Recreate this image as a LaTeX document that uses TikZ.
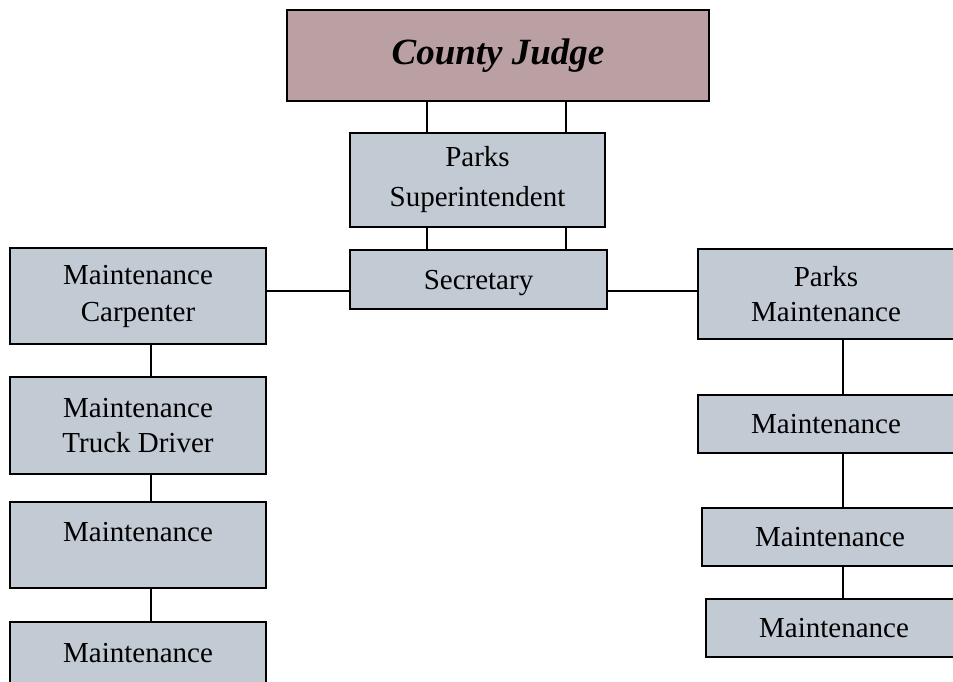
\documentclass[tikz,border=0pt]{standalone}
\usepackage{fontspec}
\setmainfont{Liberation Serif}
\usepackage{xcolor}
\usetikzlibrary{positioning,calc}

\definecolor{boxfill}{RGB}{194,202,212}
\definecolor{judgefill}{RGB}{186,160,163}

\tikzset{
    post/.style={draw=black, line width=1.8pt, fill=boxfill, minimum width=256pt,
        align=center, inner sep=0pt, font=\fontsize{29}{35}\selectfont},
    link/.style={line width=1.8pt}
}

\begin{document}
\begin{tikzpicture}[x=1pt, y=-1pt]
    \useasboundingbox (0,0) rectangle (953,681);
    \clip (0,0) rectangle (953,681);

    % Top of the chart
    \node[post, fill=judgefill, minimum width=422pt, minimum height=91pt,
        font=\fontsize{37}{40}\selectfont\bfseries\itshape] (judge) at (498,55.5) {County Judge};
    \node[post, minimum width=255pt, minimum height=94pt,
        font=\fontsize{29}{40}\selectfont] (super) at (477.5,180) {Parks\\Superintendent};
    \node[post, minimum width=257pt, minimum height=59pt, text depth=0pt] (sec) at (478.5,279.5) {Secretary};

    % Left column
    \node[post, minimum height=96pt, font=\fontsize{29}{37}\selectfont] (carp) at (138,296) {Maintenance\\Carpenter};
    \node[post, minimum height=97pt] (truck) at (138,425.5) {Maintenance\\Truck Driver};
    \node[post, minimum height=86pt, text depth=26pt] (leftA) at (138,545) {Maintenance};
    \node[post, minimum height=62pt] (leftB) at (138,653) {Maintenance};

    % Right column
    \node[post, minimum height=90pt] (parks) at (826,294) {Parks\\Maintenance};
    \node[post, minimum height=58pt] (rightA) at (826,424) {Maintenance};
    \node[post, minimum height=58pt] (rightB) at (830,537) {Maintenance};
    \node[post, minimum height=58pt] (rightC) at (834,628) {Maintenance};

    % Connectors
    \foreach \x in {427,566} {
        \draw[link] (judge.south -| \x,0) -- (super.north -| \x,0);
        \draw[link] (super.south -| \x,0) -- (sec.north -| \x,0);
    }
    \draw[link] (sec.west |- 0,291) -- (carp.east |- 0,291);
    \draw[link] (sec.east |- 0,291) -- (parks.west |- 0,291);

    \foreach \a/\b in {carp/truck, truck/leftA, leftA/leftB}
        \draw[link] (\a.south -| 151,0) -- (\b.north -| 151,0);
    \foreach \a/\b in {parks/rightA, rightA/rightB, rightB/rightC}
        \draw[link] (\a.south -| 843,0) -- (\b.north -| 843,0);
\end{tikzpicture}
\end{document}
